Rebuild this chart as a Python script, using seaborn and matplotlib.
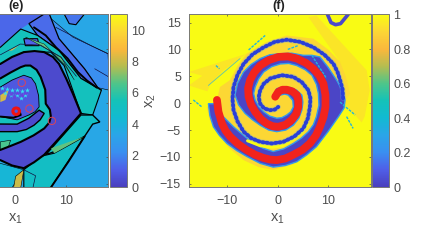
import matplotlib
matplotlib.use("Agg")
import matplotlib.pyplot as plt
import numpy as np
import pandas as pd
import seaborn as sns
from matplotlib.cm import ScalarMappable
from matplotlib.colors import LinearSegmentedColormap, Normalize

sns.set_style("ticks")
plt.rcParams["font.family"] = ["Liberation Sans", "DejaVu Sans"]
plt.rcParams["mathtext.default"] = "regular"

GREY = "#4d4d4d"
W, H = 423, 245

# colours of the bars
bar_stops = [0, .1, .2, .3, .4, .5, .6, .7, .8, .9, 1]
bar_colors = ["#4a3fbe", "#4f5fe8", "#3a8ff0", "#2aa5e8", "#12bad2", "#14c2b8",
              "#4ec58a", "#b5bd50", "#fab83c", "#fcd635", "#f9fb14"]
parula = LinearSegmentedColormap.from_list("parula", list(zip(bar_stops, bar_colors)))

# panel (f), regions and value (0..1)
hull_f = [(-9.5, 4.3), (-8, 7), (-6.2, 9.2), (-2.2, 11.4), (1.8, 12.6), (7.1, 12.0), (10, 10), (12.4, 7.7),
          (13.6, 4.8), (14.4, 1.8), (13, -0.1), (11.7, -2.5), (9.5, -5.8), (7.1, -8.7), (3, -11.4), (-0.9, -12.4),
          (-3.8, -11.9), (-6.8, -10.6), (-9.6, -8.4), (-12.1, -5.6), (-13.6, -3), (-14.1, -0.7), (-12.1, 0.6), (-11.5, 3)]
wedge_left = [(-17.7, 5.8), (-6.2, 9.2), (-10.8, 6.1), (-13.4, 3.6), (-14, 2.2), (-17.7, 3.3), (-15, 5.1)]
wedge_right = [(6.1, 16.0), (7.7, 16.3), (17.7, 6.1), (18.3, 2.4), (17.3, -2.5), (16.7, -3.6),
               (13.4, -0.1), (12.4, 7.7)]
purple_f = [(-13.8, -0.1), (-13.5, -2.3), (-12.8, -4.4), (-11.6, -6), (-10.1, -7.5), (-8.2, -8.8), (-6.2, -9.9),
            (-3.5, -11.2), (-0.9, -11.9), (1.5, -11.6), (3.8, -10.9), (5.8, -9.6), (7.7, -8.1), (10, -5.3),
            (12.1, -2.5), (13.2, -0.9), (13.4, 0.6), (12.8, 2.5), (11.7, 4.3), (10, 6.7), (8.4, 8.6), (6.8, 8.9),
            (5.1, 8.9), (2.8, 9.3), (0.5, 9.2), (-1.6, 9), (-3.5, 8.3), (-5.3, 7.2), (-6.8, 5.8), (-8, 3.7),
            (-8.5, 1.5), (-7.8, -0.3), (-6.5, -1.9), (-5, -3.1), (-3.5, -4.1), (-1.8, -5), (-0.2, -5.3), (1.6, -5),
            (3.1, -4.1), (4.2, -2.8), (4.8, -1.3), (5, 0.2), (4.8, 1.5), (3.8, 2.4), (2.5, 2.9), (1.1, 3),
            (-0.2, 2.7), (-0.9, 1.2), (0.5, 1.5), (1.4, 1.7), (2.1, 1.5), (3, 0.5), (3.1, -0.7), (2.6, -1.6),
            (1.8, -2.2), (0.8, -2.7), (-0.2, -2.8), (-1.6, -2.4), (-2.8, -1.6), (-3.8, -0.6), (-4.5, 0.6),
            (-4.8, 1.8), (-4.5, 3), (-3.8, 4.5), (-2.8, 5.8), (-1.2, 6.8), (0.5, 7.3), (2.2, 7.4), (3.8, 7),
            (5.5, 6.2), (6.8, 5.2), (7.7, 3.5), (8.1, 1.8), (8.2, -0.4), (7.7, -2.5), (7.1, -4), (6.1, -5.3),
            (4.7, -6.5), (3.1, -7.5), (1.2, -8.5), (-0.9, -9), (-2.9, -8.4), (-4.8, -7.5), (-6.8, -6), (-8.8, -4.4),
            (-10.2, -3.1), (-11.5, -1.9), (-12.2, -1), (-12.5, -0.1)]
red_arm = [(-12.1, 0.6), (-11.8, -1.6), (-11.1, -3.8), (-10.4, -5.1), (-9.5, -6.2), (-7.9, -7.6), (-6.2, -8.7),
           (-4.5, -9.6), (-2.8, -10.2), (-1.5, -10.5), (-0.2, -10.6), (1.5, -10.3), (3.1, -9.6), (4.9, -8.7),
           (6.4, -7.5), (7.6, -6), (8.4, -4.4), (9.1, -2.6), (9.5, -0.7), (9.5, 1.5), (9.1, 3.6), (8.3, 5.1),
           (7.1, 6.4), (5.6, 7.5), (3.8, 8.3), (2, 8.7), (0.1, 8.6), (-1.8, 8), (-3.5, 7.0), (-4.7, 5.7),
           (-5.5, 4.3), (-5.9, 2.8), (-5.8, 1.2), (-5.3, -0.3), (-4.5, -1.6), (-3.4, -2.9), (-2.2, -3.8),
           (-1, -4.3), (0.1, -4.4), (1.6, -4), (2.8, -3.1), (3.7, -2), (4.1, -0.7), (4.1, 0.5), (3.8, 1.5),
           (2.9, 2.2), (1.8, 2.5), (0.9, 2.5), (0.1, 2.1), (-0.5, 1.2)]
blue_arm = [(13, 0.9), (12.9, 2.6), (12.4, 4.3), (11.9, 5.8), (11.1, 7.3), (9.3, 9), (7.1, 10.4), (4.5, 11.4),
            (1.8, 11.8), (-0.6, 11.4), (-2.8, 10.4), (-5, 9.1), (-6.8, 7.3), (-8, 5.3), (-8.8, 3), (-9, 0.8),
            (-8.8, -1.3), (-8, -3.4), (-6.8, -5.3), (-5.3, -6.5), (-3.5, -7.2), (-1.2, -7.5), (1.1, -7.2),
            (3.3, -6.2), (5.1, -4.7), (6, -2.8), (6.4, -0.7), (6.5, 0.9), (6.1, 2.4), (4.8, 3.9), (3.1, 4.9),
            (0.8, 5.2), (-1.5, 4.6), (-2.8, 3.6), (-3.5, 2.4), (-3.8, 1.1), (-3.5, -0.1), (-2.7, -1), (-1.5, -1.3),
            (-0.6, -1.2), (0.1, -0.7)]
yellow_strip = [(-6, -7), (-3.5, -7.9), (-1, -8.2), (1, -7.9), (3, -6.8), (4.8, -5.5), (6, -4)]
ring_blob = [(9.9, 16.5), (10.6, 15), (11.5, 14.6), (12.5, 14.8), (14, 16.5)]
cyan_marks = [[(-5.8, 9.9), (-2.5, 12.6)], [(-16.8, 0.6), (-15.1, -0.7)], [(-12.3, 7), (-11.6, 6.4)],
              [(12.4, 0.2), (15.4, -2.2)], [(13.7, -2.5), (15, -4.7)], [(2, 10), (4, 10.7)],
              [(6.8, 8.9), (9.7, 4.6)]]
teal_line = [(-13.8, 3.3), (-7.5, 8.3)]

# panel (e), regions and value (0..11)
top_left_e = [(-18, 16.6), (5.7, 16.6), (2.7, 14.8), (1.1, 13.8), (-2.9, 10.4), (-18, 10.4)]
blob_e = [(1.7, 12), (4.4, 12), (4.7, 10.7), (2, 10.7)]
upper_right_e = [(6.7, 16), (11.3, 12.3), (18.2, 9.2), (18.5, 2.4), (16.2, 2.9), (13.6, 6.4), (8.6, 12)]
band_e = [(5.7, 16.6), (6.7, 16.6), (8.6, 12), (13.6, 6.4), (16.2, 2.9), (16.9, 2.4), (12.9, 4.6),
          (8.6, 9.8), (4.4, 12.6), (2.7, 14.8)]
teal_top_e = [(-18, 10.4), (-2.9, 10.4), (1.1, 13.8), (4.4, 12.6), (8.6, 9.8), (12.9, 4.6), (16.9, 2.4),
              (15.2, -2.2), (12.9, -1.9), (9.6, 7.0), (7, 9.5), (1.7, 9.5), (-2.9, 7.7), (-18, 7.7)]
corner_blob_e = [(9.6, 16.6), (10.6, 14.8), (11.9, 14.6), (13.6, 16.6)]
core_e = [(-18, 7.3), (1.7, 9.5), (5.7, 9.5), (8.6, 7.3), (11.3, 1.8), (12.9, -1.9), (5.7, -9.6),
          (-2.9, -10.6), (-18, -10.6)]
ring_e = [(-18, 7.3), (-2.9, 7.3), (-0.6, 8.6), (1.7, 9.5), (3.8, 9.7), (5.7, 9.5), (7.4, 8.6), (8.6, 7.3),
          (10, 4.6), (11.3, 1.8), (12.9, -1.9), (9.5, -5.6), (5.7, -9.6), (3.7, -11), (1.7, -12.1), (-0.6, -11.6),
          (-2.9, -10.6), (-18, -10.6), (-18, -8.7), (-2.9, -8.7), (-1, -8), (1.1, -7.2), (3.6, -6), (5.7, -4.7),
          (6.7, -3.6), (7, -2.5), (6.8, -1.2), (6, -0.1), (5.9, 2.5), (5, 4.9), (4.2, 6.2), (3, 7), (2, 7),
          (1.1, 6.7), (-0.9, 5.7), (-2.9, 4.6), (-18, 4.6)]
inner_e = [(-18, 3), (-2.9, 3), (-0.6, 4.3), (1.7, 5.2), (3.2, 4.7), (4, 3.6), (4.6, 1.4), (4.7, -0.7), (3.9, -1.6),
           (2.7, -2.2), (0.4, -3.1), (-2.9, -2.5), (-18, -2.5)]
low_arc_e = [(-18, -5.3), (0.4, -5.3), (2.2, -4.9), (3.7, -4.1), (4.9, -3.1), (5.7, -1.9), (4.7, -1.3), (2.7, -2.8),
             (0.4, -3.9), (-18, -3.8)]
side_teal_e = [(12.9, -2.2), (15.2, -2.2), (16.6, -3.5), (15.2, -3.9), (13.6, -6.2), (7.7, -9), (6, -9.6)]
green_e = [(7, -8.4), (13.6, -6.2), (7.7, -9.3)]
lower_teal_e = [(1.7, -12.4), (5, -9.9), (7.7, -9.3), (13.6, -6.2), (7, -15.7), (1.7, -15.7)]
lower_yellow_e = [(-0.3, -15.7), (0.1, -13.6), (1.7, -12.4), (1.1, -15.7)]
lower_left_e = [(-18, -11.2), (-2.9, -11.2), (1.7, -12.4), (-0.6, -15.7), (-18, -15.7)]
green_strip_e = [(2, 12.3), (5.7, 11), (9.6, 7.3), (11.6, 4.3), (9, 8.6)]
speck_e = [(-1.3, 9.8), (0.7, 10.7), (-0.6, 9.8)]
center_orange_e = [(-2.9, 1.5), (-1.3, 2.4), (-1.9, 0.6), (-2.9, 0.2)]
left_green_e = [(-2.9, -7.2), (-0.9, -6.9), (-1.3, -8.1), (-2.9, -8.7)]
thick_lines_e = [[(3.7, 14.1), (6, 12.6), (8, 10.4), (10.3, 8.3), (12.3, 5.8), (14.1, 4.2), (16, 2.9)],
                 [(-2.9, -2.5), (-0.3, -2.7), (1.1, -2.2), (0.7, -1)],
                 [(13.6, -6.2), (10.5, -10.8), (7, -15.7)]]
thin_lines_e = [[(8, 14.1), (14.9, 10.7), (18.2, 9.2)], [(15.6, 6.4), (18.5, 4.8)],
                [(-2.9, 9), (1, 11), (5, 10.8), (9, 8.5), (12, 5)],
                [(1.7, -12.4), (4, -13.5), (3.5, -15.7)]]

stars_cyan = [(-1.6, 2.7), (-0.6, 2.4), (0.4, 2.5), (1.4, 2.3), (2.4, 2.5), (-0.9, 1.5), (0.4, 1.5),
              (2, 1.5), (1.1, 0.9), (-1.9, 1.8), (-2.6, 2.9)]
stars_purple = [(-0.9, 1.7), (0.4, 1.8), (1.4, 1.5), (-0.3, 1.2), (2, 1.8)]
open_circles = [(1.3, 3.8), (2.8, -1), (7.2, -3.3)]
thick_circle = [(0.2, -1.5)]

x_ticks_e = [0, 10]
x_ticks_f = [-10, 0, 10]
y_ticks_f = [-15, -10, -5, 0, 5, 10, 15]
bar_ticks_e = [0, 2, 4, 6, 8, 10]
bar_ticks_f = [0, 0.2, 0.4, 0.6, 0.8, 1]
bar_labels_f = ["0", "0.2", "0.4", "0.6", "0.8", "1"]


def add_ax(fig, left, top, right, bottom):
    return fig.add_axes([left / W, 1 - bottom / H, (right - left) / W, (bottom - top) / H])


def region(ax, pts, value, norm, edge="none", lw=0.0):
    xs, ys = zip(*pts)
    ax.fill(xs, ys, color=parula(norm(value)), ec=edge, lw=lw)


def line(ax, pts, color, lw, **kws):
    df = pd.DataFrame(pts, columns=["x", "y"])
    sns.lineplot(data=df, x="x", y="y", sort=False, estimator=None, color=color, lw=lw, ax=ax, **kws)


def dress(ax, xticks):
    ax.set_xticks(xticks)
    ax.set_xlabel("")
    ax.set_ylabel("")
    ax.tick_params(direction="in", length=1.5, width=0.5, colors=GREY, labelsize=9, top=True, right=True, pad=6)
    for s in ax.spines.values():
        s.set_color("#777777")
        s.set_linewidth(0.7)


def add_bar(fig, box, norm, ticks, labels=None):
    cax = add_ax(fig, *box)
    cb = fig.colorbar(ScalarMappable(norm=norm, cmap=parula), cax=cax)
    cb.set_ticks(ticks)
    if labels:
        cb.set_ticklabels(labels)
    cax.tick_params(direction="in", length=1.5, width=0.5, colors=GREY, labelsize=9, pad=3)
    cb.outline.set_edgecolor("#777777")
    cb.outline.set_linewidth(0.7)
    return cb


fig = plt.figure(figsize=(W / 100, H / 100), dpi=100)

# panel (e)
ax = add_ax(fig, -76.7, 14.5, 108, 187)
norm_e = Normalize(0, 11)
ax.set_facecolor(parula(norm_e(3.4)))
region(ax, upper_right_e, 2.2, norm_e, "black", 0.4)
region(ax, top_left_e, 1.3, norm_e)
region(ax, corner_blob_e, 1.6, norm_e, "black", 0.8)
region(ax, band_e, 1.4, norm_e, "black", 0.9)
region(ax, teal_top_e, 5.3, norm_e, "black", 0.8)
region(ax, blob_e, 1.2, norm_e, "black", 0.8)
region(ax, green_strip_e, 6.8, norm_e, "black", 0.3)
region(ax, speck_e, 8.5, norm_e)
region(ax, side_teal_e, 5, norm_e, "black", 1.0)
region(ax, lower_left_e, 4.2, norm_e, "black", 0.4)
region(ax, lower_teal_e, 5, norm_e, "black", 0.8)
region(ax, green_e, 6.8, norm_e)
region(ax, lower_yellow_e, 8, norm_e, "black", 0.4)
region(ax, core_e, 5.3, norm_e)
region(ax, left_green_e, 6.5, norm_e, "black", 0.4)
region(ax, ring_e, 0.4, norm_e, "black", 1.5)
region(ax, inner_e, 0.9, norm_e, "black", 0.6)
region(ax, low_arc_e, 0.4, norm_e, "black", 1.0)
region(ax, center_orange_e, 8.2, norm_e)
for pts in thick_lines_e:
    line(ax, pts, "black", 1.4)
for pts in thin_lines_e:
    line(ax, pts, "#101040", 0.5)
for pts, col in [(stars_cyan, "#35e0f2"), (stars_purple, "#6a3fe0")]:
    df = pd.DataFrame(pts, columns=["x", "y"])
    sns.scatterplot(data=df, x="x", y="y", marker="*", s=14, color=col, linewidth=0, ax=ax, zorder=5)
df = pd.DataFrame(open_circles, columns=["x", "y"])
sns.scatterplot(data=df, x="x", y="y", marker="o", s=28, facecolor="none", edgecolor="#d9435a",
                linewidth=0.7, ax=ax, zorder=6)
df = pd.DataFrame(thick_circle, columns=["x", "y"])
sns.scatterplot(data=df, x="x", y="y", marker="o", s=22, facecolor="none", edgecolor="#f01212",
                linewidth=2.2, ax=ax, zorder=6)
ax.set_xlim(-18, 18.2)
ax.set_ylim(-15.6, 16.5)
dress(ax, x_ticks_e)
ax.set_yticks(y_ticks_f)
ax.set_yticklabels([])
add_bar(fig, (110, 14.5, 127.3, 187), norm_e, bar_ticks_e)

# panel (f)
ax2 = add_ax(fig, 189.3, 14.5, 370.7, 187)
norm_f = Normalize(0, 1)
ax2.set_facecolor(parula(norm_f(1.0)))
region(ax2, wedge_left, 0.94, norm_f)
region(ax2, wedge_right, 0.94, norm_f)
region(ax2, hull_f, 0.9, norm_f)
line(ax2, yellow_strip, parula(norm_f(1.0)), 2.2)
region(ax2, purple_f, 0.02, norm_f, parula(norm_f(0.25)), 1.0)
line(ax2, ring_blob, parula(norm_f(0.03)), 2.6)
for pts in cyan_marks:
    line(ax2, pts, "#22b5dc", 1.0, linestyle=(0, (2, 0.8)))
line(ax2, teal_line, "#5fc0b0", 0.6)
line(ax2, blue_arm, "#5aa0ea", 3.8, alpha=0.35)
line(ax2, blue_arm, "#2a3fd8", 2.8, linestyle=(0, (0.35, 0.75)), dash_capstyle="round")
line(ax2, red_arm, "#f2231c", 5.6, solid_capstyle="round")
ax2.set_xlim(-17.6, 18.5)
ax2.set_ylim(-15.6, 16.5)
dress(ax2, x_ticks_f)
ax2.set_yticks(y_ticks_f)
add_bar(fig, (372, 14.5, 389.3, 187), norm_f, bar_ticks_f, bar_labels_f)

# labels in figure coordinates
fig.text(16.5 / W, 1 - 6 / H, "(e)", ha="center", va="center", fontsize=9, fontweight="bold", color="#222222")
fig.text(279 / W, 1 - 6 / H, "(f)", ha="center", va="center", fontsize=9, fontweight="bold", color="#222222")
fig.text(15 / W, 1 - 219 / H, r"x$_1$", ha="center", va="center", fontsize=10.5, color=GREY)
fig.text(277 / W, 1 - 219 / H, r"x$_1$", ha="center", va="center", fontsize=10.5, color=GREY)
fig.text(151 / W, 1 - 101 / H, r"x$_2$", ha="center", va="center", rotation=90, fontsize=10.5, color=GREY)

fig.savefig("out.png", dpi=100)
